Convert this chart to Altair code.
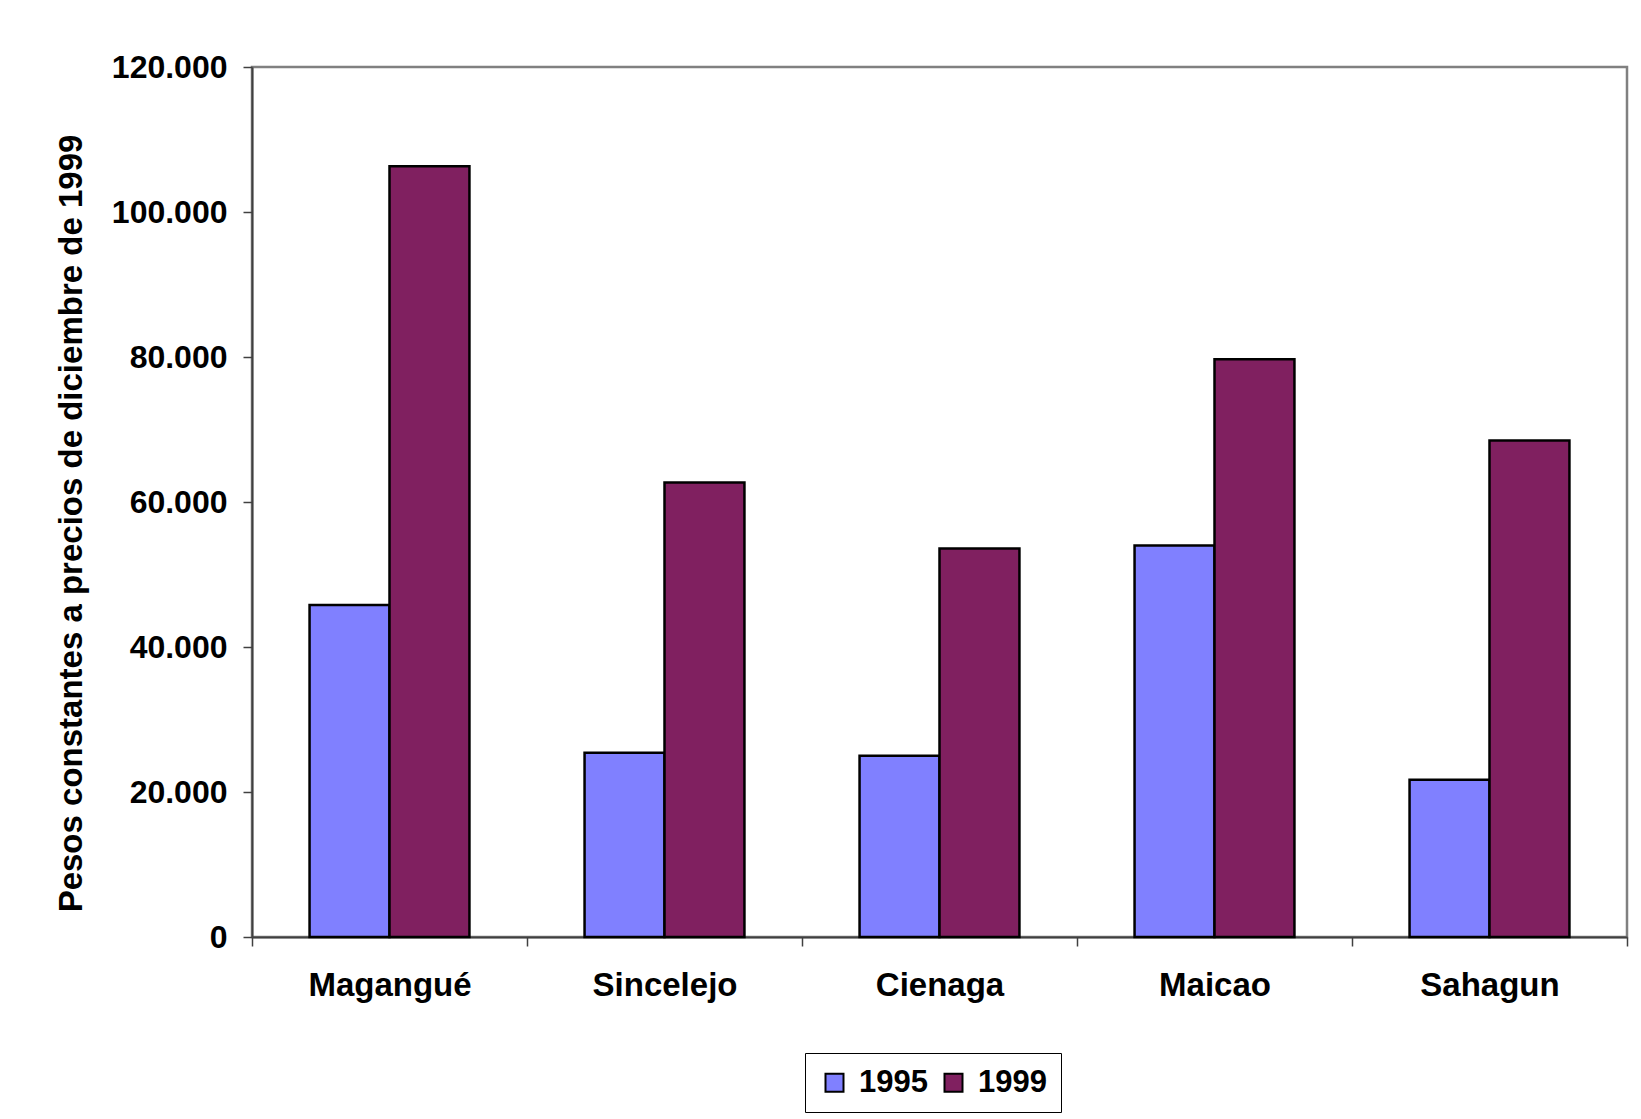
import altair as alt
import pandas as pd

cities = ["Magangué", "Sincelejo", "Cienaga", "Maicao", "Sahagun"]
years = ["1995", "1999"]
v1995 = [45800, 25400, 25000, 54000, 21700]
v1999 = [106300, 62700, 53600, 79700, 68500]
y_ticks = [0, 20000, 40000, 60000, 80000, 100000, 120000]
colors = ["#8080FF", "#802060"]

rows = []
for i, c in enumerate(cities):
    rows.append({"city": c, "year": years[0], "value": v1995[i]})
    rows.append({"city": c, "year": years[1], "value": v1999[i]})
df = pd.DataFrame(rows)

FONT = "Liberation Sans"

bars = alt.Chart(df).mark_bar(stroke="black", strokeWidth=2.5).encode(
    x=alt.X("city:N", sort=cities,
            scale=alt.Scale(paddingInner=0, paddingOuter=0),
            axis=alt.Axis(title=None, labelAngle=0, labelFontSize=33, labelFont=FONT,
                          labelFontWeight="bold", labelColor="black", labelPadding=23,
                          tickBand="extent", tickSize=9, tickColor="#404040", tickWidth=1.5,
                          domainColor="#404040", domainWidth=2, labelBaseline="top")),
    xOffset=alt.XOffset("year:N", sort=years,
                        scale=alt.Scale(paddingInner=0, paddingOuter=0.72)),
    y=alt.Y("value:Q", scale=alt.Scale(domain=[0, 120000], nice=False),
            axis=alt.Axis(values=y_ticks, grid=False,
                          labelExpr="datum.value == 0 ? '0' : format(datum.value / 1000, 'd') + '.000'",
                          labelFontSize=32, labelFont=FONT, labelFontWeight="bold",
                          labelColor="black", labelPadding=16, tickSize=9,
                          tickColor="#404040", tickWidth=1.5, domainColor="#404040",
                          domainWidth=2,
                          title="Pesos constantes a precios de diciembre de 1999",
                          titleFont=FONT, titleFontSize=33, titleFontWeight="bold",
                          titleColor="black", titleAngle=270, titleX=-181, titleY=456,
                          titleAlign="center", titleBaseline="middle")),
    fill=alt.Fill("year:N", sort=years,
                  scale=alt.Scale(domain=years, range=colors),
                  legend=alt.Legend(title=None, orient="none", legendX=553, legendY=986,
                                    direction="horizontal", strokeColor="black",
                                    padding=14, symbolType="square", symbolSize=324,
                                    symbolStrokeColor="black", symbolStrokeWidth=2,
                                    labelFont=FONT, labelFontSize=31, labelFontWeight="bold",
                                    labelColor="black", labelOffset=9, columnPadding=10,
                                    fillColor="white")),
)

chart = bars.properties(
    width=1375, height=870,
    autosize=alt.AutoSizeParams(type="none"),
    padding={"left": 244, "top": 59, "right": 6, "bottom": 180},
    background="white",
).configure_view(stroke="#808080", strokeWidth=2.5)

chart.save("out.html", embed_options={"renderer": "svg", "actions": False})
